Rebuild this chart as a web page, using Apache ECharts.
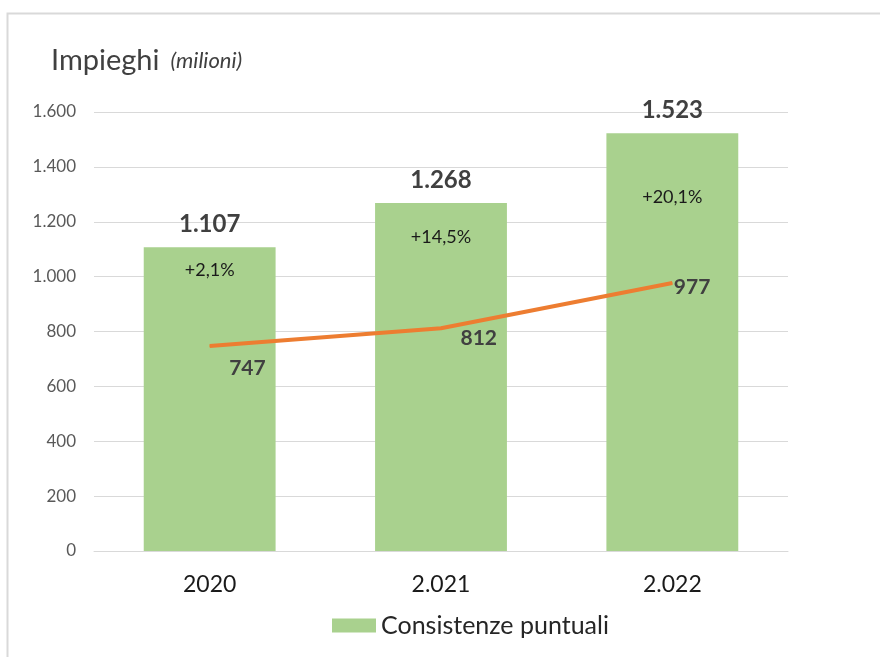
<!DOCTYPE html>
<html><head><meta charset="utf-8">
<script src="https://cdn.jsdelivr.net/npm/echarts@6/dist/echarts.min.js"></script>
<style>html,body{margin:0;padding:0;background:#fff}#c{width:880px;height:657px}</style>
</head><body><div id="c"></div>
<script>
const categories = ['2020', '2.021', '2.022'];
const consistenze = [1107, 1268, 1523];
const variazioni = ['+2,1%', '+14,5%', '+20,1%'];
const lineValues = [747, 812, 977];
const yTicks = { min: 0, max: 1600, interval: 200 };

const FONT = 'Lato';
function fmt(v) { return String(v).replace(/\B(?=(\d{3})+(?!\d))/g, '.'); }

const pctOffsets = [[0, 9], [0, 20], [0, 50]];
const lineLabelOffsets = [[19, 22], [19, 10], [1, 4]];

const chart = echarts.init(document.getElementById('c'));
chart.setOption({
  animation: false,
  textStyle: { fontFamily: FONT },
  graphic: [
    { type: 'rect', shape: { x: 7.5, y: 13.5, width: 1000, height: 1000 }, style: { fill: 'none', stroke: '#d9d9d9', lineWidth: 2 }, silent: true },
    { type: 'text', left: 51, top: 46, style: { rich: { a: { fontFamily: FONT, fontSize: 29, fill: '#404040' }, s: { width: 11 }, b: { fontFamily: FONT, fontSize: 22, fontStyle: 'italic', fill: '#404040' } }, text: '{a|Impieghi}{s|}{b|(milioni)}' } }
  ],
  grid: { left: 94, right: 92, top: 112, bottom: 106 },
  legend: {
    data: ['Consistenze puntuali'],
    bottom: 14, left: 327,
    itemWidth: 44, itemHeight: 14, itemGap: 4,
    icon: 'rect',
    textStyle: { fontFamily: FONT, fontSize: 25, color: '#262626' }
  },
  xAxis: {
    type: 'category', data: categories,
    axisLine: { lineStyle: { color: '#d9d9d9' } },
    axisTick: { show: false },
    axisLabel: { fontFamily: FONT, fontSize: 23, color: '#1a1a1a', margin: 22 }
  },
  yAxis: {
    type: 'value', min: yTicks.min, max: yTicks.max, interval: yTicks.interval,
    axisLine: { show: false }, axisTick: { show: false },
    splitLine: { lineStyle: { color: '#d9d9d9', width: 1 } },
    axisLabel: { fontFamily: FONT, fontSize: 17, color: '#595959', margin: 18, formatter: v => fmt(v) }
  },
  series: [
    {
      name: 'Consistenze puntuali', type: 'bar', data: consistenze, barWidth: '57%',
      itemStyle: { color: '#a9d18e' },
      label: { show: true, position: 'top', distance: 11, fontFamily: FONT, fontSize: 24, fontWeight: 'bold', color: '#404040', formatter: p => fmt(p.value) }
    },
    {
      name: 'var', type: 'bar', barGap: '-100%', barWidth: '57%', silent: true,
      data: consistenze.map((v, i) => ({ value: v, label: { offset: pctOffsets[i] } })),
      itemStyle: { color: 'rgba(0,0,0,0)' },
      label: { show: true, position: 'insideTop', fontFamily: FONT, fontSize: 18, color: '#1a1a1a', formatter: p => variazioni[p.dataIndex] }
    },
    {
      name: 'Linea', type: 'line', data: lineValues,
      symbol: 'circle', symbolSize: 1, showSymbol: true, z: 5,
      itemStyle: { color: '#ed7d31' },
      lineStyle: { color: '#ed7d31', width: 4 },
      label: { show: true, position: 'right', distance: 0, fontFamily: FONT, fontSize: 21, fontWeight: 'bold', color: '#404040' },
      labelLayout: p => ({ dx: lineLabelOffsets[p.dataIndex][0], dy: lineLabelOffsets[p.dataIndex][1], hideOverlap: false })
    }
  ]
});
</script></body></html>
